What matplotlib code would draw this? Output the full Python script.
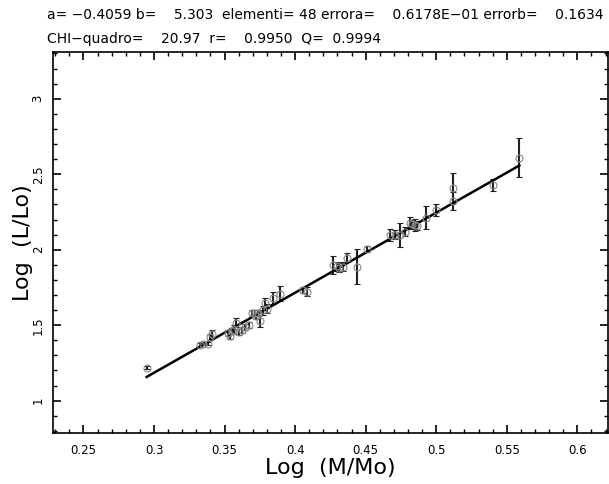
import numpy as np
import matplotlib.pyplot as plt
from matplotlib.ticker import MultipleLocator

# log(M/Mo), log(L/Lo) and the error on log(L/Lo)
log_m = [0.2948, 0.3326, 0.3348, 0.3383, 0.3400, 0.3411, 0.3525, 0.3539, 0.3555, 0.3567,
         0.3582, 0.3603, 0.3620, 0.3645, 0.3670, 0.3695, 0.3716, 0.3720, 0.3738, 0.3752,
         0.3775, 0.3787, 0.3801, 0.3844, 0.3894, 0.4057, 0.4085, 0.4270, 0.4300, 0.4312,
         0.4340, 0.4369, 0.4440, 0.4511, 0.4674, 0.4709, 0.4745, 0.4780, 0.4816, 0.4830,
         0.4851, 0.4865, 0.4929, 0.5000, 0.5121, 0.5121, 0.5404, 0.5589]
log_l = [1.219, 1.371, 1.377, 1.377, 1.420, 1.444, 1.450, 1.430, 1.460, 1.470,
         1.517, 1.457, 1.470, 1.490, 1.500, 1.583, 1.583, 1.560, 1.583, 1.530,
         1.600, 1.649, 1.609, 1.682, 1.709, 1.735, 1.722, 1.901, 1.890, 1.881,
         1.887, 1.947, 1.887, 2.007, 2.099, 2.099, 2.099, 2.120, 2.179, 2.170,
         2.166, 2.159, 2.212, 2.265, 2.411, 2.320, 2.430, 2.609]
err_l = [0.010, 0.010, 0.010, 0.010, 0.020, 0.025, 0.020, 0.020, 0.020, 0.030,
         0.030, 0.020, 0.020, 0.020, 0.020, 0.020, 0.020, 0.020, 0.020, 0.040,
         0.030, 0.030, 0.030, 0.040, 0.050, 0.020, 0.030, 0.060, 0.030, 0.030,
         0.030, 0.030, 0.115, 0.020, 0.040, 0.030, 0.080, 0.030, 0.040, 0.030,
         0.040, 0.030, 0.075, 0.040, 0.100, 0.060, 0.040, 0.130]

a = -0.4059
b = 5.303

fig = plt.figure(figsize=(6.09, 4.84), dpi=100)
ax = fig.add_axes([0.087, 0.1054, 0.912, 0.7872])

ax.errorbar(log_m, log_l, yerr=err_l, fmt='o', ms=5, mfc='none', mec='#888888',
            mew=0.8, ecolor='#222222', elinewidth=1.5, capsize=2.5, capthick=1.5)
xfit = np.array([min(log_m), max(log_m)])
ax.plot(xfit, a + b * xfit, color='black', lw=1.8)

ax.set_xlim(0.2284, 0.622)
ax.set_ylim(0.786, 3.31)
ax.xaxis.set_major_locator(MultipleLocator(0.05))
ax.xaxis.set_minor_locator(MultipleLocator(0.01))
ax.yaxis.set_major_locator(MultipleLocator(0.5))
ax.yaxis.set_minor_locator(MultipleLocator(0.1))
ax.tick_params(which='both', direction='in', top=True, right=True, labelsize=8.5)
ax.tick_params(which='major', length=6, width=1.2)
ax.tick_params(which='minor', length=3, width=1)
ax.xaxis.set_major_formatter(lambda v, p: f'{v:g}')
ax.yaxis.set_major_formatter(lambda v, p: f'{v:g}')
for lab in ax.get_yticklabels():
    lab.set_rotation(90)
    lab.set_va('center')
ax.tick_params(axis='x', pad=8)
ax.tick_params(axis='y', pad=6)
for s in ax.spines.values():
    s.set_linewidth(1.2)

ax.set_xlabel('Log  (M/Mo)', fontsize=16, labelpad=1)
ax.set_ylabel('Log  (L/Lo)', fontsize=16, labelpad=-1)

fig.text(0.077, 0.97, 'a= \u22120.4059 b=    5.303  elementi= 48 errora=    0.6178E\u221201 errorb=    0.1634',
         fontsize=10, va='center', ha='left')
fig.text(0.077, 0.92, 'CHI\u2212quadro=    20.97  r=    0.9950  Q=  0.9994',
         fontsize=10, va='center', ha='left')

fig.savefig('out.png', dpi=100)
